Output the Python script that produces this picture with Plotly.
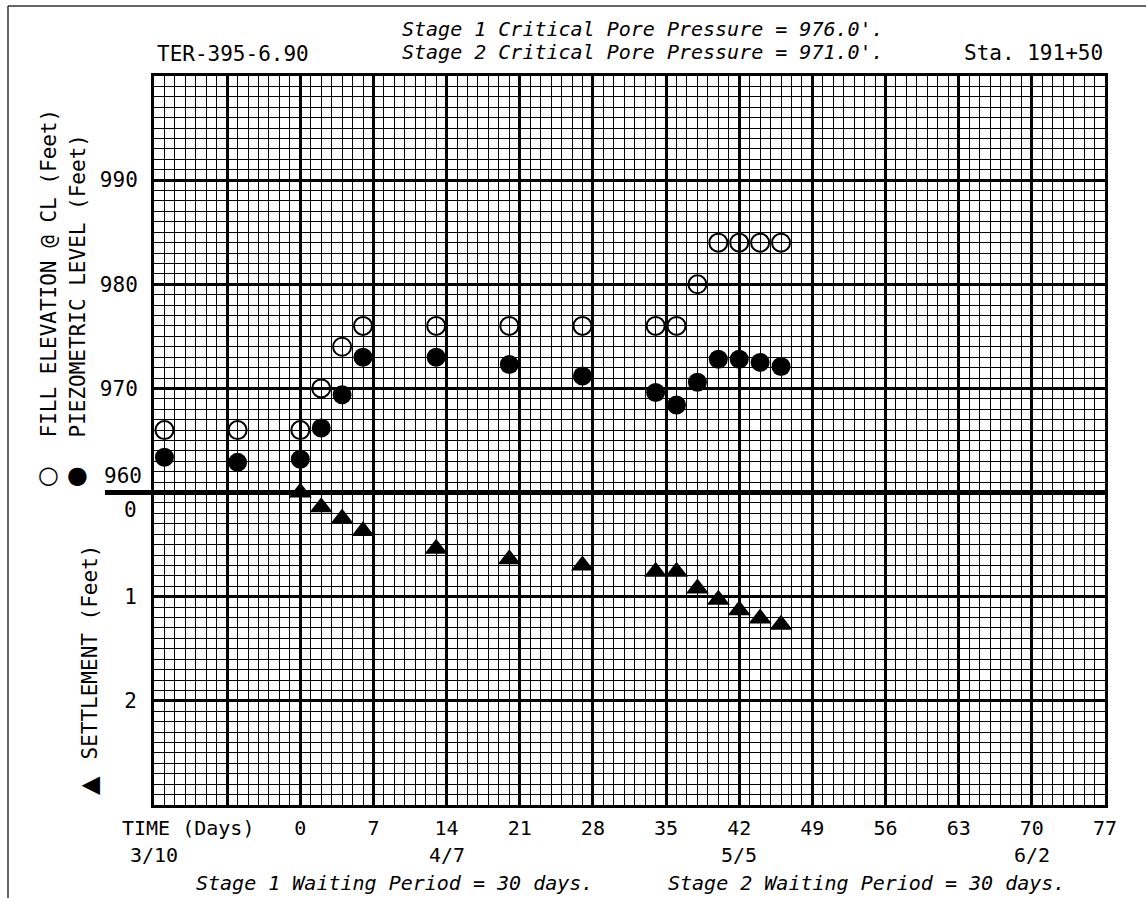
import plotly.graph_objects as go

# ---- data ----
fill_days = [-13, -6, 0, 2, 4, 6, 13, 20, 27, 34, 36, 38, 40, 42, 44, 46]
fill_elev = [966, 966, 966, 970, 974, 976, 976, 976, 976, 976, 976, 980, 984, 984, 984, 984]
piezo_days = [-13, -6, 0, 2, 4, 6, 13, 20, 27, 34, 36, 38, 40, 42, 44, 46]
piezo_level = [963.4, 962.9, 963.2, 966.2, 969.4, 973.0, 973.0, 972.3, 971.2, 969.6, 968.4,
               970.6, 972.8, 972.8, 972.5, 972.1]
settle_days = [0, 2, 4, 6, 13, 20, 27, 34, 36, 38, 40, 42, 44, 46]
settlement = [0.0, 0.14, 0.25, 0.37, 0.54, 0.64, 0.70, 0.76, 0.76, 0.92, 1.03, 1.13, 1.21, 1.27]

time_ticks = [0, 7, 14, 21, 28, 35, 42, 49, 56, 63, 70, 77]
date_days = [-14, 14, 42, 70]
date_labels = ["3/10", "4/7", "5/5", "6/2"]
elev_ticks = [970, 980, 990]
settle_ticks = [1, 2]

FONT = "DejaVu Sans Mono"
SYM_FONT = "DejaVu Sans"
W, H = 1146, 898
L, R, T, B = 154, 41, 76, 93
PW, PH = W - L - R, H - T - B


def px_x(px):
    return (px - L) / PW


def px_y(py):
    return (H - B - py) / PH


fig = go.Figure()
fig.add_trace(go.Scatter(x=fill_days, y=fill_elev, mode="markers", name="Fill elevation",
                         marker=dict(symbol="circle-open", size=18, color="black",
                                     line=dict(width=2, color="black"))))
fig.add_trace(go.Scatter(x=piezo_days, y=piezo_level, mode="markers", name="Piezometric level",
                         marker=dict(symbol="circle", size=19, color="black")))
fig.add_trace(go.Scatter(x=settle_days, y=settlement, mode="markers", name="Settlement",
                         yaxis="y2",
                         marker=dict(symbol="triangle-up", size=20, color="black")))

grid_major = dict(showgrid=True, gridcolor="black", gridwidth=3)
fig.update_layout(
    width=W, height=H,
    margin=dict(l=L, r=R, t=T, b=B, autoexpand=False),
    paper_bgcolor="white", plot_bgcolor="white",
    showlegend=False,
    font=dict(family=FONT, size=20, color="black"),
    xaxis=dict(range=[-14, 77], tickmode="array",
               tickvals=[-7] + time_ticks,
               ticktext=[""] + [str(v) for v in time_ticks],
               ticks="", ticklabelstandoff=3,
               tickfont=dict(family=FONT, size=20),
               minor=dict(tickmode="linear", tick0=-14, dtick=1, showgrid=True,
                          gridcolor="black", gridwidth=1, ticks=""),
               showline=True, linecolor="black", linewidth=3, mirror=True,
               zeroline=False, automargin=False, **grid_major),
    yaxis=dict(range=[930, 1000], tickmode="array",
               tickvals=[940, 950, 960] + elev_ticks,
               ticktext=["", "", ""] + [str(v) for v in elev_ticks],
               ticks="", ticklabelstandoff=9,
               tickfont=dict(family=FONT, size=21),
               minor=dict(tickmode="linear", tick0=930, dtick=1, showgrid=True,
                          gridcolor="black", gridwidth=1, ticks=""),
               showline=True, linecolor="black", linewidth=3, mirror=True,
               zeroline=False, automargin=False, **grid_major),
    yaxis2=dict(range=[3, -4], overlaying="y", anchor="x", side="left",
                tickmode="array", tickvals=settle_ticks,
                ticktext=[str(v) for v in settle_ticks],
                ticks="", ticklabelstandoff=16, showgrid=False, zeroline=False,
                tickfont=dict(family=FONT, size=21),
                showline=False, automargin=False),
)

ann = []


def add(text, x, y, xanchor="center", yanchor="middle", xref="paper", yref="paper",
        size=20, style="normal", angle=0, yshift=0, family=FONT):
    ann.append(dict(text=text, x=x, y=y, xref=xref, yref=yref, xanchor=xanchor,
                    yanchor=yanchor, showarrow=False, textangle=angle, yshift=yshift,
                    font=dict(family=family, size=size, color="black", style=style)))


add("TER-395-6.90", px_x(155), px_y(54), xanchor="left", size=21)
add("Sta. 191+50", px_x(1105), px_y(53), xanchor="right", size=21)
add("Stage 1 Critical Pore Pressure = 976.0'.", px_x(643), px_y(29), style="italic")
add("Stage 2 Critical Pore Pressure = 971.0'.", px_x(643), px_y(52), style="italic")
add("TIME (Days)", px_x(188), px_y(828))
for d, lab in zip(date_days, date_labels):
    add(lab, d, px_y(855), xref="x")
add("Stage 1 Waiting Period = 30 days.", px_x(394), px_y(883), style="italic")
add("Stage 2 Waiting Period = 30 days.", px_x(866), px_y(883), style="italic")
add("FILL ELEVATION @ CL (Feet)", px_x(48), px_y(440), yanchor="bottom", angle=-90, size=21)
add("PIEZOMETRIC LEVEL (Feet)", px_x(77), px_y(440), yanchor="bottom", angle=-90, size=21)
add("○", px_x(48), px_y(475), size=24, family=SYM_FONT)
add("●", px_x(77), px_y(475), size=24, family=SYM_FONT)
add("SETTLEMENT (Feet)", px_x(89), px_y(762), yanchor="bottom", angle=-90, size=21)
add("▲", px_x(89), px_y(786), angle=-90, size=24, family=SYM_FONT)
add("960", px_x(144), 960, xanchor="right", yref="y", yshift=17, size=21)
add("0", px_x(139), 0, xanchor="right", yref="y2", yshift=-17, size=21)
fig.update_layout(annotations=ann)

shapes = [
    dict(type="line", xref="paper", yref="y", x0=px_x(105), x1=1, y0=960, y1=960,
         line=dict(color="black", width=5)),
    dict(type="line", xref="paper", yref="paper", x0=px_x(8), x1=px_x(8),
         y0=px_y(6), y1=px_y(900), line=dict(color="#333", width=1.5)),
    dict(type="line", xref="paper", yref="paper", x0=px_x(8), x1=px_x(1150),
         y0=px_y(6), y1=px_y(6), line=dict(color="#333", width=1.5)),
]
fig.update_layout(shapes=shapes)

fig.write_html("out.html")
